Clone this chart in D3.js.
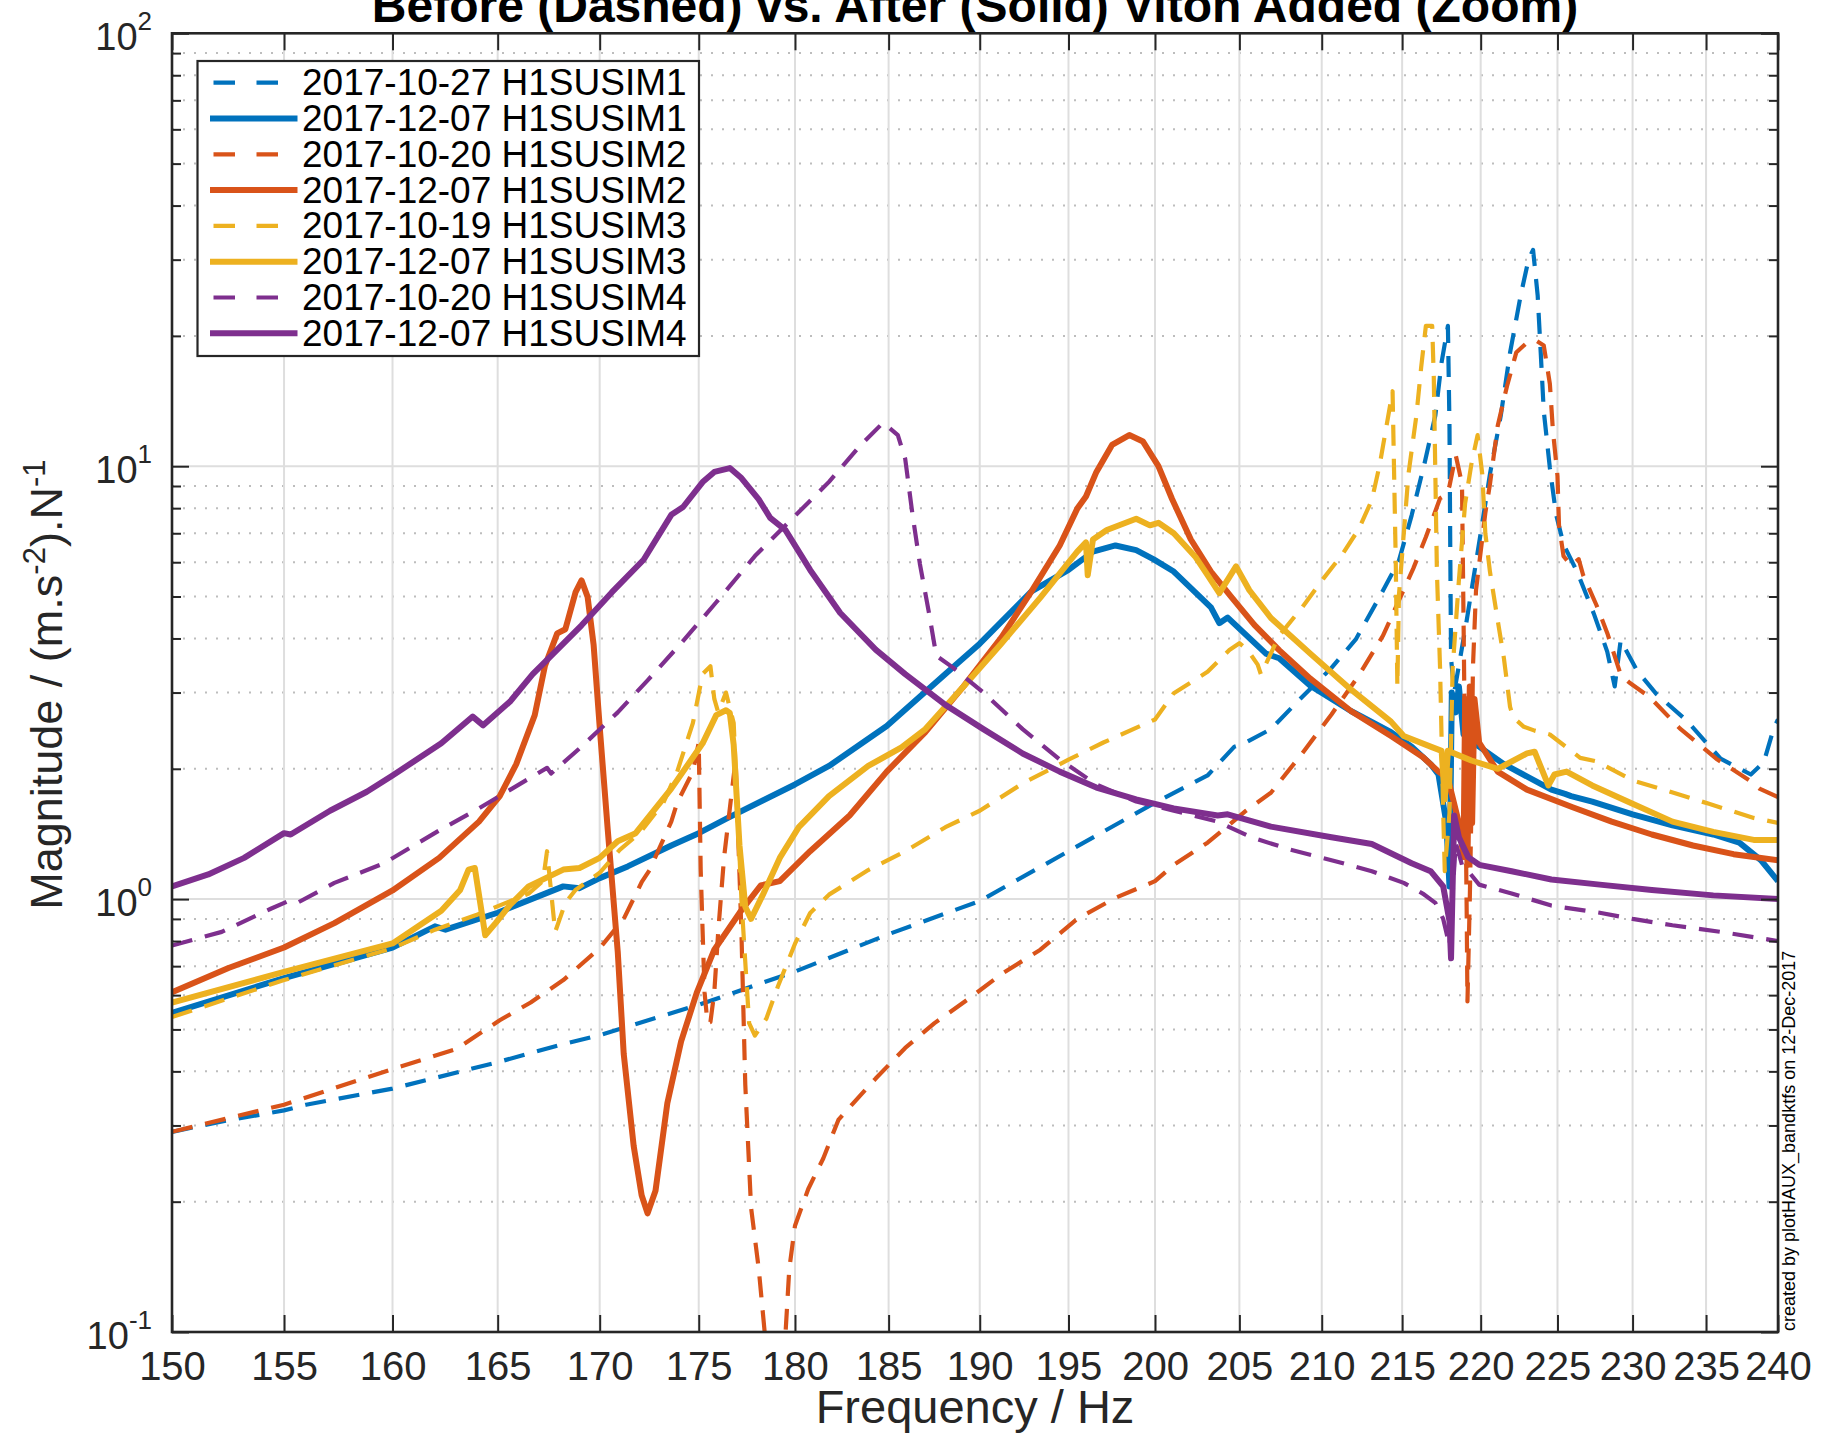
<!DOCTYPE html>
<html><head><meta charset="utf-8">
<script src="https://cdn.jsdelivr.net/npm/d3@7"></script>
<style>
body{margin:0;background:#fff}
svg{display:block}
text{font-family:"Liberation Sans",Arial,Helvetica,sans-serif}
</style>
</head><body>
<svg id="chart" width="1822" height="1436"></svg>
<script>
// ---------------- DATA ----------------
const freqTicks = [150,155,160,165,170,175,180,185,190,195,200,205,210,215,220,225,230,235,240];
const magDecades = [0.1,1,10,100];
const magExponents = ["-1","0","1","2"];
const seriesNames = [
  "2017-10-27 H1SUSIM1","2017-12-07 H1SUSIM1",
  "2017-10-20 H1SUSIM2","2017-12-07 H1SUSIM2",
  "2017-10-19 H1SUSIM3","2017-12-07 H1SUSIM3",
  "2017-10-20 H1SUSIM4","2017-12-07 H1SUSIM4"
];
const seriesColors = ["#0072BD","#0072BD","#D95319","#D95319","#EDB120","#EDB120","#7E2F8E","#7E2F8E"];
const seriesDashed = [true,false,true,false,true,false,true,false];

// [frequency Hz, magnitude]
const im1Before = [[150,0.29],[152,0.305],[155,0.325],[156,0.335],[160,0.365],[165,0.42],[168,0.46],[170,0.485],[175,0.57],[180,0.68],[185,0.83],[190,0.99],[195,1.29],[200,1.67],[203.1,1.93],[204.7,2.25],[205.2,2.28],[206.9,2.47],[208.6,2.88],[210.6,3.42],[212.1,3.98],[213.6,5.0],[214.8,6.05],[215.6,7.7],[216.4,10.1],[217.1,13.1],[217.5,17.4],[217.9,21.1],[218.0,12.4],[218.05,6.5],[218.1,3.6],[218.3,3.0],[219.1,4.4],[220.0,7.0],[220.6,9.6],[221.3,13.1],[221.9,18.3],[222.6,24.9],[223.1,30],[223.4,31.6],[223.7,24.8],[223.9,18.3],[224.1,13.4],[224.5,9.9],[224.9,7.76],[225.4,6.6],[226.3,5.7],[227.4,4.57],[228.3,3.73],[228.8,3.1],[229.2,3.96],[230.3,3.37],[231.6,2.98],[233.7,2.58],[236.0,2.11],[238.1,1.94],[239.0,2.07],[239.7,2.48],[240,2.6]];
const im1After = [[150,0.546],[155,0.657],[160,0.773],[162,0.865],[162.5,0.85],[165,0.93],[168.2,1.07],[169.0,1.06],[170,1.118],[171.4,1.19],[173.6,1.33],[175,1.42],[176.5,1.54],[180,1.84],[181.8,2.03],[184.9,2.51],[188.1,3.31],[190,3.89],[192.9,5.14],[195,5.76],[196.4,6.35],[197.7,6.56],[198.9,6.4],[199.9,6.1],[201.1,5.71],[203.3,4.72],[203.8,4.34],[204.3,4.47],[206.6,3.69],[207.4,3.6],[209.3,3.11],[211.8,2.72],[214.3,2.43],[215.6,2.25],[216.8,2.05],[217.3,1.94],[217.8,1.5],[218.0,1.07],[218.15,3.0],[218.4,2.7],[218.6,3.1],[218.9,2.4],[219.3,2.35],[219.9,2.25],[221.5,2.05],[224.6,1.79],[225.5,1.75],[225.9,1.73],[227.3,1.68],[230.0,1.57],[232.7,1.48],[235.5,1.41],[237.3,1.35],[238.8,1.23],[239.9,1.11],[240,1.1]];
const im2Before = [[150,0.29],[155,0.335],[160,0.405],[163,0.45],[165.1,0.525],[166.6,0.577],[168.2,0.65],[170,0.77],[171.2,0.9],[172.1,1.094],[172.5,1.167],[173.6,1.51],[173.9,1.67],[174.7,1.97],[175.0,2.3],[175.1,1.17],[175.2,0.84],[175.3,0.608],[175.45,0.517],[175.6,0.52],[175.8,0.61],[176.0,0.84],[176.3,1.245],[176.6,1.62],[176.9,2.1],[177.2,0.84],[177.4,0.373],[177.7,0.194],[178.1,0.14],[178.4,0.101],[178.7,0.07],[179.3,0.07],[179.7,0.14],[180.0,0.176],[180.7,0.214],[181.5,0.252],[182.3,0.309],[183.1,0.338],[184.3,0.385],[185.9,0.453],[187.5,0.517],[189.4,0.589],[191.2,0.671],[193.4,0.764],[195.5,0.9],[197.7,1.007],[200,1.1],[201.1,1.2],[203.1,1.35],[205.4,1.6],[206.9,1.76],[208.8,2.17],[210.6,2.67],[212.3,3.29],[213.8,4.06],[214.8,4.9],[215.7,5.8],[216.5,6.86],[217.4,8.43],[217.8,8.6],[218.0,9.0],[218.4,10.6],[218.8,9.1],[218.9,4.4],[219.0,2.04],[219.1,0.94],[219.15,0.58],[219.3,1.0],[219.4,1.58],[219.5,3.42],[219.7,5.17],[220.3,7.8],[220.6,9.1],[221.1,12.4],[221.7,15.3],[222.3,18.3],[223.0,19.3],[223.6,19.5],[224.1,19.0],[224.5,15.5],[224.7,12.1],[225.0,9.5],[225.1,7.3],[225.4,6.2],[225.9,5.9],[226.4,6.1],[226.7,5.6],[227.6,4.76],[228.3,4.12],[229.2,3.3],[229.8,3.16],[231.2,2.92],[233.2,2.48],[235.7,2.11],[238.1,1.87],[238.7,1.8],[240,1.72]];
const im2After = [[150,0.609],[152.5,0.693],[155,0.773],[157.3,0.88],[160,1.047],[162.2,1.245],[164.1,1.51],[165.1,1.73],[165.9,2.05],[166.8,2.66],[167.3,3.46],[167.9,4.11],[168.3,4.2],[168.8,5.11],[169.1,5.45],[169.4,4.99],[169.7,3.86],[170.0,2.5],[170.4,1.45],[170.9,0.757],[171.2,0.439],[171.7,0.269],[172.1,0.207],[172.4,0.188],[172.8,0.212],[173.4,0.338],[174.1,0.469],[174.9,0.608],[175.8,0.764],[177.1,0.929],[178.2,1.075],[179.2,1.1],[180.8,1.29],[182.9,1.56],[184.9,1.97],[187.0,2.43],[189.1,3.1],[191.2,4.02],[192.9,5.14],[194.5,6.56],[195.5,7.98],[196.0,8.51],[196.6,9.7],[197.5,11.2],[198.5,11.8],[199.3,11.4],[200.2,10.0],[201.0,8.4],[202.1,6.78],[203.3,5.71],[204.5,5.0],[205.9,4.3],[207.4,3.76],[209.3,3.23],[211.8,2.72],[214.3,2.38],[216.3,2.13],[217.3,1.97],[217.9,1.9],[218.3,1.66],[218.6,1.5],[218.9,1.25],[219.0,2.9],[219.15,1.2],[219.3,3.1],[219.45,1.5],[219.6,2.9],[219.9,2.3],[221.1,1.97],[223.0,1.79],[226.0,1.63],[228.6,1.51],[231.3,1.41],[234.1,1.33],[236.9,1.27],[240,1.23]];
const im3Before = [[150,0.534],[155,0.65],[160,0.77],[162,0.85],[164,0.92],[166.5,1.03],[167.2,1.1],[167.4,1.29],[167.8,0.84],[168.3,0.98],[168.8,1.05],[170,1.15],[171.0,1.3],[172.0,1.42],[173.2,1.67],[173.9,1.97],[174.7,2.55],[175.2,3.31],[175.6,3.45],[175.8,2.9],[176.0,2.7],[176.4,3.0],[176.8,2.55],[177.2,1.0],[177.4,0.716],[177.6,0.517],[177.9,0.484],[178.5,0.53],[179.1,0.628],[180.0,0.789],[180.8,0.929],[181.8,1.024],[183.9,1.167],[185.9,1.29],[188.1,1.466],[190,1.6],[192.4,1.85],[195,2.1],[197,2.3],[200,2.6],[201.1,2.99],[203.1,3.35],[204.4,3.76],[205.0,3.9],[205.5,3.76],[206.1,3.48],[206.3,3.3],[207.4,4.06],[208.8,4.72],[210.1,5.5],[211.3,6.28],[212.3,7.17],[213.1,8.35],[213.6,10.1],[214.4,14.9],[214.6,6.0],[214.7,3.1],[214.8,5.04],[215.4,9.6],[215.9,13.1],[216.2,16.9],[216.5,21.1],[216.9,21.1],[217.0,16.1],[217.1,9.6],[217.2,5.7],[217.4,3.42],[217.5,2.32],[217.6,1.58],[217.7,1.16],[218.0,1.58],[218.2,3.4],[218.6,5.44],[219.0,8.2],[219.4,10.1],[219.8,11.8],[220.1,9.6],[220.3,7.0],[220.6,5.7],[221.1,4.4],[221.5,3.6],[221.9,2.78],[222.1,2.63],[222.8,2.5],[223.5,2.45],[224.5,2.4],[226.5,2.12],[227.6,2.08],[230.0,1.88],[232.1,1.79],[235.2,1.66],[238.3,1.54],[240,1.5]];
const im3After = [[150,0.577],[155,0.679],[160,0.79],[162.3,0.94],[163.2,1.05],[163.6,1.17],[163.9,1.18],[164.4,0.825],[164.9,0.88],[165.6,0.97],[166.5,1.07],[168.2,1.17],[169.0,1.18],[170,1.245],[170.9,1.36],[171.8,1.42],[173.6,1.8],[175.2,2.29],[175.9,2.66],[176.4,2.73],[176.6,2.69],[176.8,2.27],[177.1,1.33],[177.4,0.96],[177.7,0.9],[178.3,1.02],[179.2,1.245],[180.2,1.466],[181.8,1.73],[183.9,2.03],[185.7,2.24],[187.0,2.47],[189.1,3.1],[191.2,3.89],[193.4,4.97],[195.5,6.35],[196.0,6.67],[196.1,5.6],[196.4,6.77],[197.2,7.12],[198.9,7.56],[199.7,7.3],[200.2,7.4],[201.1,7.0],[202.4,6.16],[203.1,5.6],[203.8,5.09],[204.8,5.87],[205.6,5.17],[206.9,4.46],[209.3,3.69],[211.8,3.05],[214.3,2.57],[215.1,2.38],[216.8,2.25],[217.5,2.2],[217.7,1.7],[217.9,2.2],[219.4,2.09],[221.1,2.0],[223.0,2.17],[223.5,2.19],[224.4,1.83],[224.8,1.94],[225.6,1.97],[227.3,1.83],[230.0,1.66],[232.7,1.51],[235.5,1.43],[238.3,1.37],[240,1.37]];
const im4Before = [[150,0.781],[152.2,0.84],[154.4,0.95],[155.2,0.99],[155.6,0.98],[157.3,1.09],[159.6,1.21],[162.3,1.45],[164.1,1.62],[165.7,1.8],[167.4,2.01],[167.6,1.95],[169.1,2.25],[170.9,2.7],[172.4,3.2],[174.1,3.9],[175.9,4.85],[177.9,6.2],[179.9,7.6],[181.8,9.2],[183.5,11.2],[184.7,12.6],[185.5,11.8],[185.9,10.4],[186.3,7.72],[186.7,5.95],[187.2,4.58],[187.6,3.65],[188.5,3.43],[190.2,3.0],[192.4,2.47],[194.5,2.1],[196.6,1.84],[198.9,1.68],[201.1,1.6],[203.7,1.51],[205.7,1.39],[208.1,1.3],[210.6,1.23],[213.1,1.16],[215.1,1.09],[216.3,1.03],[217.1,0.98],[217.6,0.9],[218.0,0.78],[218.4,1.35],[218.8,1.2],[219.2,1.16],[219.9,1.08],[222.0,1.03],[224.6,0.966],[227.8,0.93],[230.0,0.9],[232.7,0.87],[236.0,0.84],[240,0.8]];
const im4After = [[150,1.07],[151.6,1.14],[153.2,1.245],[155,1.42],[155.3,1.41],[157.1,1.6],[158.8,1.77],[160,1.93],[162.3,2.29],[163.8,2.64],[164.3,2.52],[165.6,2.86],[166.7,3.31],[167.5,3.61],[169.1,4.29],[170.6,5.11],[172.2,6.08],[173.6,7.72],[174.2,8.05],[175.2,9.19],[175.8,9.7],[176.6,9.9],[177.2,9.39],[178.1,8.38],[178.7,7.6],[179.5,7.12],[180.8,5.76],[182.4,4.58],[184.3,3.77],[185.9,3.31],[188.1,2.81],[190.2,2.47],[192.4,2.17],[194.5,1.97],[196.6,1.81],[198.9,1.7],[201.1,1.62],[203.7,1.56],[204.3,1.57],[206.9,1.47],[210.6,1.39],[213.1,1.34],[215.6,1.21],[216.8,1.16],[217.6,1.07],[218.0,0.89],[218.1,0.73],[218.3,1.56],[218.6,1.39],[219.2,1.25],[219.9,1.2],[222.0,1.16],[224.6,1.11],[227.8,1.08],[231.3,1.05],[235.5,1.02],[240,1.0]];
const seriesData = [im1Before,im1After,im2Before,im2After,im3Before,im3After,im4Before,im4After];

// ---------------- LAYOUT ----------------
const L = 172, R = 1778, T = 33.3, B = 1332;
const svg = d3.select("#chart");
const x = d3.scaleLog().domain([150,240]).range([L,R]);
const y = d3.scaleLog().domain([0.1,100]).range([B,T]);
const axisColor = "#262626";

svg.append("defs").append("clipPath").attr("id","plotclip")
  .append("rect").attr("x",L).attr("y",T).attr("width",R-L).attr("height",B-T);

const minorY = [];
for (let d = 0.1; d < 100; d *= 10) for (let k = 2; k <= 9; k++) minorY.push(+(d*k).toPrecision(3));

const grid = svg.append("g");
grid.selectAll(".ymin").data(minorY).join("line")
  .attr("x1",L).attr("x2",R).attr("y1",d=>y(d)).attr("y2",d=>y(d))
  .attr("stroke","#bdbdbd").attr("stroke-width",2).attr("stroke-dasharray","2,9");
grid.selectAll(".xmaj").data(freqTicks.slice(1,-1)).join("line")
  .attr("x1",d=>x(d)).attr("x2",d=>x(d)).attr("y1",T).attr("y2",B)
  .attr("stroke","#dedede").attr("stroke-width",2);
grid.selectAll(".ymaj").data(magDecades.slice(1,-1)).join("line")
  .attr("x1",L).attr("x2",R).attr("y1",d=>y(d)).attr("y2",d=>y(d))
  .attr("stroke","#dedede").attr("stroke-width",2);

const line = d3.line().x(d=>x(d[0])).y(d=>y(d[1]));
const plot = svg.append("g").attr("clip-path","url(#plotclip)");
seriesData.forEach((data,i)=>{
  plot.append("path").datum(data)
    .attr("d",line)
    .attr("fill","none")
    .attr("stroke",seriesColors[i])
    .attr("stroke-width",seriesDashed[i]?4.2:6)
    .attr("stroke-linejoin","round")
    .attr("stroke-dasharray",seriesDashed[i]?"21,13":null);
});

const tickLen = 17;
const xAxisB = d3.axisBottom(x).tickValues(freqTicks).tickFormat(d3.format("d")).tickSizeInner(-tickLen).tickSizeOuter(0).tickPadding(20);
const gxb = svg.append("g").attr("transform",`translate(0,${B})`).call(xAxisB);
gxb.select(".domain").remove();
gxb.selectAll(".tick line").attr("stroke",axisColor).attr("stroke-width",2);
gxb.selectAll(".tick text").attr("font-size",40).attr("fill",axisColor).attr("font-family","Liberation Sans, Arial, sans-serif");

const xAxisT = d3.axisTop(x).tickValues(freqTicks).tickFormat("").tickSizeInner(-tickLen).tickSizeOuter(0);
const gxt = svg.append("g").attr("transform",`translate(0,${T})`).call(xAxisT);
gxt.select(".domain").remove();
gxt.selectAll(".tick line").attr("stroke",axisColor).attr("stroke-width",2);

function yTicks(gen, pos, vals, len){
  const g = svg.append("g").attr("transform",`translate(${pos},0)`).call(gen(y).tickValues(vals).tickFormat("").tickSizeInner(-len).tickSizeOuter(0));
  g.select(".domain").remove();
  g.selectAll(".tick line").attr("stroke",axisColor).attr("stroke-width",2);
}
yTicks(d3.axisLeft, L, magDecades, tickLen);
yTicks(d3.axisLeft, L, minorY, 9);
yTicks(d3.axisRight, R, magDecades, tickLen);
yTicks(d3.axisRight, R, minorY, 9);

magDecades.forEach((d,i)=>{
  const t = svg.append("text").attr("x",152).attr("y",y(d)+17)
    .attr("text-anchor","end").attr("fill",axisColor).attr("font-size",38);
  t.append("tspan").text("10");
  t.append("tspan").attr("dy",-20).attr("font-size",26).text(magExponents[i]);
});

svg.append("rect").attr("x",L).attr("y",T).attr("width",R-L).attr("height",B-T)
  .attr("fill","none").attr("stroke",axisColor).attr("stroke-width",2.6);

svg.append("text").attr("x",(L+R)/2).attr("y",1423).attr("text-anchor","middle")
  .attr("font-size",47).attr("fill",axisColor).text("Frequency / Hz");
const yl = svg.append("text").attr("transform",`translate(62,${(T+B)/2+2}) rotate(-90)`)
  .attr("text-anchor","middle").attr("font-size",45).attr("fill",axisColor);
yl.append("tspan").text("Magnitude / (m.s");
yl.append("tspan").attr("dy",-17).attr("font-size",31).text("-2");
yl.append("tspan").attr("dy",17).text(").N");
yl.append("tspan").attr("dy",-17).attr("font-size",31).text("-1");

svg.append("text").attr("x",(L+R)/2).attr("y",22).attr("text-anchor","middle")
  .attr("font-size",48).attr("font-weight","bold").attr("fill","#000")
  .text("Before (Dashed) vs. After (Solid) Viton Added (Zoom)");

svg.append("text").attr("transform","translate(1795,1331) rotate(-90)")
  .attr("text-anchor","start").attr("font-size",18).attr("fill","#000")
  .text("created by plotHAUX_bandktfs on 12-Dec-2017");

const lg = svg.append("g");
lg.append("rect").attr("x",197.5).attr("y",61).attr("width",501.5).attr("height",295)
  .attr("fill","#fff").attr("stroke",axisColor).attr("stroke-width",2.2);
seriesNames.forEach((name,i)=>{
  const cy = 82.7 + i*35.8;
  if (seriesDashed[i]) {
    lg.append("line").attr("x1",213.5).attr("x2",278).attr("y1",cy).attr("y2",cy)
      .attr("stroke",seriesColors[i]).attr("stroke-width",4.2).attr("stroke-dasharray","21.5,21.5");
  } else {
    lg.append("line").attr("x1",210).attr("x2",297.5).attr("y1",cy).attr("y2",cy)
      .attr("stroke",seriesColors[i]).attr("stroke-width",6);
  }
  lg.append("text").attr("x",302).attr("y",cy+12.5).attr("font-size",37).attr("fill","#000").text(name);
});
</script>
</body></html>
